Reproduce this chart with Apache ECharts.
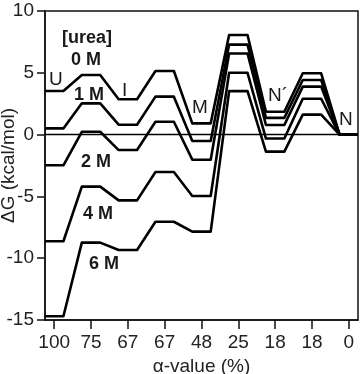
<!DOCTYPE html>
<html><head><meta charset="utf-8">
<script src="https://cdn.jsdelivr.net/npm/echarts@6/dist/echarts.min.js"></script>
<style>html,body{margin:0;padding:0;background:#fff}#c{width:364px;height:374px}</style>
</head><body><div id="c"></div>
<script>
// categories (alpha-values, %)
var categories = ['100', '75', '67', '67', '48', '25', '18', '18', '0'];
// free energies (kcal/mol) at each state, per urea concentration
var g0M = [3.53, 4.82, 2.86, 5.15, 0.91, 8.06, 1.85, 4.96, 0];
var g1M = [0.50, 2.53, 0.80, 3.07, -0.52, 7.28, 1.35, 4.42, 0];
var g2M = [-2.48, 0.23, -1.25, 1.04, -2.03, 6.56, 0.78, 3.88, 0];
var g4M = [-8.63, -4.21, -5.32, -3.02, -4.97, 5.00, -0.32, 2.90, 0];
var g6M = [-14.70, -8.74, -9.34, -7.05, -7.85, 3.52, -1.38, 1.62, 0];
var yTicks = [-15, -10, -5, 0, 5, 10];

var HALF = 0.25; // half-width of each state's plateau (in category units)
function steps(vals) {
  var pts = [];
  vals.forEach(function (v, i) { pts.push([i - HALF, v]); pts.push([i + HALF, v]); });
  return pts;
}
var chart = echarts.init(document.getElementById('c'), null, {renderer: 'canvas'});
var FONT = '"Liberation Sans", Arial, Helvetica, sans-serif';
function ser(name, vals, extra) {
  var s = {
    name: name, type: 'line', data: steps(vals), symbol: 'none', silent: true,
    lineStyle: {color: '#000', width: 2.6, join: 'round'}, animation: false, z: 3
  };
  if (extra) for (var k in extra) s[k] = extra[k];
  return s;
}
var series = [
  ser('6 M', g6M, {markLine: {silent: true, symbol: 'none', label: {show: false},
      lineStyle: {color: '#000', width: 1.3, type: 'solid'}, data: [{yAxis: 0}], animation: false}}),
  ser('4 M', g4M), ser('2 M', g2M), ser('1 M', g1M), ser('0 M', g0M)
];
function txt(x, y, s, bold) {
  return {type: 'text', left: x, top: y, silent: true, z: 10,
    style: {text: s, font: (bold ? 'bold 18px ' : '19px ') + FONT, fill: '#1a1a1a'}};
}
var ticksIdx = categories.map(function (c, i) { return i; });
chart.setOption({
  animation: false,
  grid: {left: 45, right: 6, top: 11, bottom: 54, show: true, borderColor: '#111', borderWidth: 1.5,
    containLabel: false, outerBoundsMode: 'none'},
  xAxis: {
    type: 'value', min: -HALF, max: categories.length - 1 + HALF,
    name: 'α-value (%)', nameLocation: 'middle', nameGap: 37, nameMoveOverlap: false,
    nameTextStyle: {fontFamily: FONT, fontSize: 19, color: '#222'},
    axisLine: {show: true, onZero: false, lineStyle: {color: '#111', width: 1.5}},
    axisTick: {show: true, inside: false, length: 9, customValues: ticksIdx, lineStyle: {color: '#111', width: 1.5}},
    axisLabel: {show: true, margin: 13, fontFamily: FONT, fontSize: 19, color: '#222',
      customValues: ticksIdx,
      formatter: function (v) { return categories[Math.round(v)]; }},
    splitLine: {show: false}
  },
  yAxis: {
    type: 'value', min: yTicks[0], max: yTicks[yTicks.length - 1], interval: 5,
    name: 'ΔG (kcal/mol)', nameLocation: 'middle', nameGap: 27, nameRotate: 90, nameMoveOverlap: false,
    nameTextStyle: {fontFamily: FONT, fontSize: 19, color: '#222'},
    axisLine: {show: true, onZero: false, lineStyle: {color: '#111', width: 1.5}},
    axisTick: {show: true, inside: false, length: 8, lineStyle: {color: '#111', width: 1.5}},
    axisLabel: {show: true, margin: 11, fontFamily: FONT, fontSize: 19, color: '#222'},
    splitLine: {show: false}
  },
  series: series,
  graphic: [
    txt(62, 29, '[urea]', true),
    txt(71, 51, '0 M', true),
    txt(74, 86, '1 M', true),
    txt(81, 153, '2 M', true),
    txt(83, 205, '4 M', true),
    txt(89, 255, '6 M', true),
    txt(49, 70, 'U'),
    txt(122, 81, 'I'),
    txt(192, 98, 'M'),
    txt(268, 86, 'N´'),
    txt(339, 110, 'N')
  ]
});
</script></body></html>
